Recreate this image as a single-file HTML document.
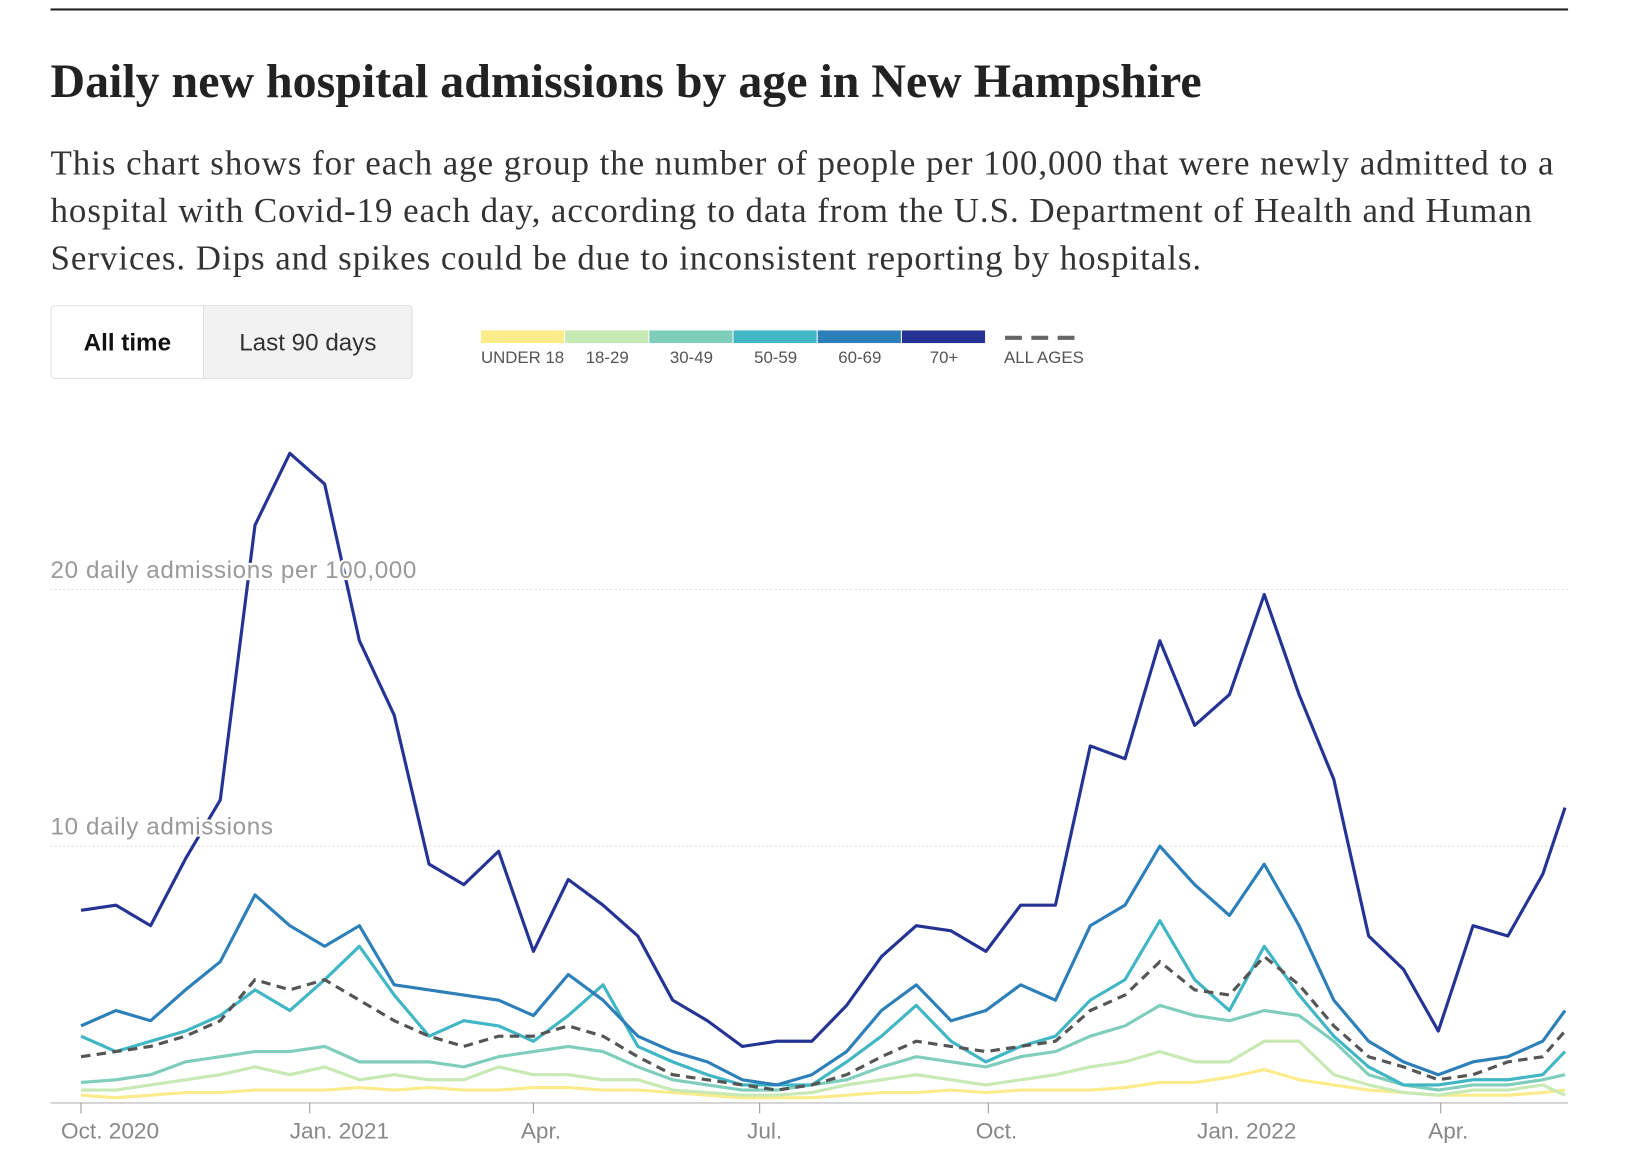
<!DOCTYPE html>
<html><head><meta charset="utf-8">
<style>
html,body{margin:0;padding:0;background:#fff;width:1651px;height:1162px;overflow:hidden}
#wrap{position:absolute;left:0;top:0;width:1570px;height:1105px;transform:scale(1.0524);transform-origin:0 0}
.rule{position:absolute;left:48px;top:8px;width:1442px;height:2px;background:#222}
h1{position:absolute;left:48px;top:50px;margin:0;font:bold 45.5px "Liberation Serif",serif;color:#222;letter-spacing:0px;white-space:nowrap}
p.desc{position:absolute;left:48px;top:133px;margin:0;width:1460px;font:33.2px/45px "Liberation Serif",serif;color:#333;letter-spacing:0.9px}
.btns{position:absolute;left:48px;top:290px;width:342px;height:68px;border:1px solid #ddd;border-radius:4px;overflow:hidden;font-family:"Liberation Sans",sans-serif;font-size:23px}
.b1{position:absolute;left:0;top:0;width:144px;height:68px;background:#fff;font-weight:bold;color:#111;text-align:center;line-height:68px;border-right:1px solid #ddd}
.b2{position:absolute;left:145px;top:0;width:197px;height:68px;background:#f2f2f2;color:#333;text-align:center;line-height:68px}
svg{position:absolute;left:0;top:0}
</style></head><body>
<div id="wrap">
<div class="rule"></div>
<h1>Daily new hospital admissions by age in New Hampshire</h1>
<p class="desc">This chart shows for each age group the number of people per 100,000 that were newly admitted to a hospital with Covid-19 each day, according to data from the U.S. Department of Health and Human Services. Dips and spikes could be due to inconsistent reporting by hospitals.</p>
<div class="btns">
<div class="b1">All time</div>
<div class="b2">Last 90 days</div>
</div>
<svg id="chart" width="1570" height="1105"></svg>
</div>
<script>
const days=[0,14,28,42,56,70,84,98,112,126,140,154,168,182,196,210,224,238,252,266,280,294,308,322,336,350,364,378,392,406,420,434,448,462,476,490,504,518,532,546,560,574,588,597];
const s70=[7.5,7.7,6.9,9.5,11.8,22.5,25.3,24.1,18,15.1,9.3,8.5,9.8,5.9,8.7,7.7,6.5,4.0,3.2,2.2,2.4,2.4,3.8,5.7,6.9,6.7,5.9,7.7,7.7,13.9,13.4,18,14.7,15.9,19.8,15.9,12.6,6.5,5.2,2.8,6.9,6.5,8.9,11.5];
const s6069=[3.0,3.6,3.2,4.4,5.5,8.1,6.9,6.1,6.9,4.6,4.4,4.2,4.0,3.4,5.0,4.0,2.6,2.0,1.6,0.9,0.7,1.1,2.0,3.6,4.6,3.2,3.6,4.6,4.0,6.9,7.7,10,8.5,7.3,9.3,6.9,4.0,2.4,1.6,1.1,1.6,1.8,2.4,3.6];
const s5059=[2.6,2.0,2.4,2.8,3.4,4.4,3.6,4.8,6.1,4.2,2.6,3.2,3.0,2.4,3.4,4.6,2.2,1.6,1.1,0.7,0.7,0.7,1.6,2.6,3.8,2.4,1.6,2.2,2.6,4.0,4.8,7.1,4.8,3.6,6.1,4.2,2.6,1.4,0.7,0.7,0.9,0.9,1.1,2.0];
const s3049=[0.8,0.9,1.1,1.6,1.8,2.0,2.0,2.2,1.6,1.6,1.6,1.4,1.8,2.0,2.2,2.0,1.4,0.9,0.7,0.5,0.5,0.7,0.9,1.4,1.8,1.6,1.4,1.8,2.0,2.6,3.0,3.8,3.4,3.2,3.6,3.4,2.4,1.1,0.7,0.5,0.7,0.7,0.9,1.1];
const s1829=[0.5,0.5,0.7,0.9,1.1,1.4,1.1,1.4,0.9,1.1,0.9,0.9,1.4,1.1,1.1,0.9,0.9,0.5,0.4,0.3,0.3,0.4,0.7,0.9,1.1,0.9,0.7,0.9,1.1,1.4,1.6,2.0,1.6,1.6,2.4,2.4,1.1,0.7,0.4,0.3,0.5,0.5,0.7,0.3];
const sU18=[0.3,0.2,0.3,0.4,0.4,0.5,0.5,0.5,0.6,0.5,0.6,0.5,0.5,0.6,0.6,0.5,0.5,0.4,0.3,0.2,0.2,0.2,0.3,0.4,0.4,0.5,0.4,0.5,0.5,0.5,0.6,0.8,0.8,1.0,1.3,0.9,0.7,0.5,0.4,0.3,0.3,0.3,0.4,0.5];
const sAll=[1.8,2.0,2.2,2.6,3.2,4.8,4.4,4.8,4.0,3.2,2.6,2.2,2.6,2.6,3.0,2.6,1.8,1.1,0.9,0.7,0.5,0.7,1.1,1.8,2.4,2.2,2.0,2.2,2.4,3.6,4.2,5.5,4.4,4.2,5.7,4.6,3.0,1.8,1.4,0.9,1.1,1.6,1.8,2.8];
const legendLabels=["UNDER 18","18-29","30-49","50-59","60-69","70+"];
const tickLabels=["Oct. 2020","Jan. 2021","Apr.","Jul.","Oct.","Jan. 2022","Apr."];
const tickDays=[0,92,182,273,365,457,547];
const colors=["#fbeb8a","#c7e9b4","#7fcdbb","#41b6c4","#2c7fb8","#253494"];
const NS="http://www.w3.org/2000/svg";
const svg=document.getElementById('chart');
const X=d=>77+d*2.362, Y=v=>1048-v*24.4;
function mk(t,a){const e=document.createElementNS(NS,t);for(const k in a)e.setAttribute(k,a[k]);svg.appendChild(e);return e;}
[10,20].forEach(v=>{
 const g=mk('line',{x1:48,x2:1490,y1:Y(v),y2:Y(v),stroke:'#ddd','stroke-dasharray':'2,2'});
 
 
});
const ax=mk('line',{x1:48,x2:1490,y1:1048,y2:1048,stroke:'#ccc','stroke-width':1.5});


tickDays.forEach((d,i)=>{
 const t=mk('line',{x1:X(d),x2:X(d),y1:1048,y2:1058,stroke:'#999'});
 
 
 const l=mk('text',{x:X(d)-(tickLabels[i].length>5?19:12),y:1082,'font-family':'Liberation Sans, sans-serif','font-size':21.5,fill:'#888'});
 l.textContent=tickLabels[i];
 
 
});
const series=[sU18,s1829,s3049,s5059,s6069];
function path(arr){return arr.map((v,i)=>(i?'L':'M')+X(days[i]).toFixed(1)+','+Y(v).toFixed(1)).join('');}
series.forEach((s,i)=>{
 const p=mk('path',{d:path(s),fill:'none',stroke:colors[i],'stroke-width':3,'stroke-linejoin':'round'});
 
 
});
const pa=mk('path',{d:path(sAll),fill:'none',stroke:'#555','stroke-width':3,'stroke-dasharray':'9,6'});


const p7=mk('path',{d:path(s70),fill:'none',stroke:colors[5],'stroke-width':3,'stroke-linejoin':'round'});


[[20,'20 daily admissions per 100,000'],[10,'10 daily admissions']].forEach(([v,t])=>{
 const l=mk('text',{x:48,y:Y(v)-11,'font-family':'Liberation Sans, sans-serif','font-size':23,'letter-spacing':0.6,fill:'#999',stroke:'#fff','stroke-width':4,'paint-order':'stroke'});
 l.textContent=t;
 
 
});
legendLabels.forEach((t,i)=>{
 const r=mk('rect',{x:457+i*80,y:314,width:79,height:12,fill:colors[i]});
 
 
 const l=mk('text',{x:457+i*80+(i==0?0:40),y:345,'text-anchor':i==0?'start':'middle','font-family':'Liberation Sans, sans-serif','font-size':16,fill:'#555'});
 l.textContent=t;
 
 
});
const ld=mk('line',{x1:955,x2:1027,y1:321,y2:321,stroke:'#666','stroke-width':4,'stroke-dasharray':'16,9'});


const ll=mk('text',{x:954,y:345,'font-family':'Liberation Sans, sans-serif','font-size':16,fill:'#555'});
ll.textContent='ALL AGES';


</script>
</body></html>
